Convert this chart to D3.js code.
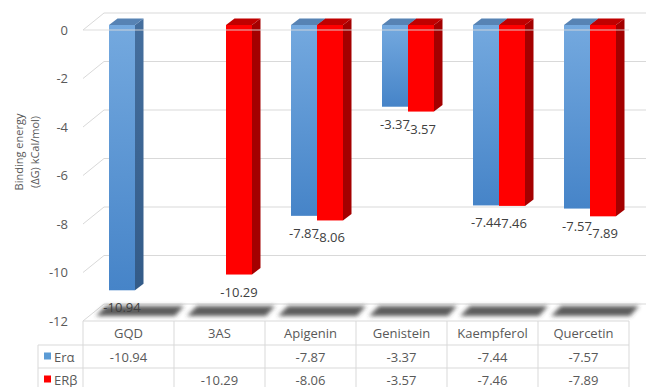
<!DOCTYPE html>
<html>
<head>
<meta charset="utf-8">
<script src="https://cdn.jsdelivr.net/npm/d3@7"></script>
<style>
  html, body { margin: 0; padding: 0; background: #fff; }
  svg { display: block; font-family: "Open Sans", sans-serif; }
</style>
</head>
<body>
<svg id="chart" width="646" height="387"></svg>
<script>
// Binding energies (ΔG, kCal/mol) per ligand for each receptor
const categories = ["GQD", "3AS", "Apigenin", "Genistein", "Kaempferol", "Quercetin"];
const seriesNames = ["Erα", "ERβ"];
const erAlpha = [-10.94, null, -7.87, -3.37, -7.44, -7.57];
const erBeta = [null, -10.29, -8.06, -3.57, -7.46, -7.89];
const yTicks = [0, -2, -4, -6, -8, -10, -12];
const yTitle = ["Binding energy", "(ΔG) kCal/mol)"];

const series = [
  { name: seriesNames[0], values: erAlpha, front: "url(#gBlue)", side: "url(#gBlueSide)", top: "#5783b4", key: "#5b9bd5" },
  { name: seriesNames[1], values: erBeta, front: "#ff0000", side: "#a40000", top: "#c00000", key: "#ff0000" }
];

const svg = d3.select("#chart");
const FONT = "13px";

// gradients and blur for the 3D look
const defs = svg.append("defs");
const g1 = defs.append("linearGradient").attr("id", "gBlue").attr("x1", 0).attr("y1", 0).attr("x2", 0).attr("y2", 1);
g1.append("stop").attr("offset", 0).attr("stop-color", "#74a9df");
g1.append("stop").attr("offset", 1).attr("stop-color", "#4684c8");
const g2 = defs.append("linearGradient").attr("id", "gBlueSide").attr("x1", 0).attr("y1", 0).attr("x2", 0).attr("y2", 1);
g2.append("stop").attr("offset", 0).attr("stop-color", "#456f9e");
g2.append("stop").attr("offset", 1).attr("stop-color", "#335b88");
defs.append("filter").attr("id", "blur").attr("x", "-20%").attr("y", "-60%").attr("width", "140%").attr("height", "220%")
  .append("feGaussianBlur").attr("stdDeviation", 2);

// scales
const x = d3.scaleBand().domain(categories).range([83, 629]);
const y = d3.scaleLinear().domain([0, -12]).range([30, 321]);
const pair = d3.scaleBand().domain([0, 1]).range([0, 52]);

// depth of the plot box and of the bars
const DX = 21, DY = -17;
const BOX = { dx: 6.5, dy: -5 };   // bar front plane offset
const BD = { dx: 8.5, dy: -6.5 };  // bar thickness

const gridColor = "#d9d9d9";

// back wall gridlines and side wall diagonals
const grid = svg.append("g").attr("stroke", gridColor).attr("stroke-width", 1).attr("fill", "none");
grid.selectAll("line.back").data(yTicks).join("line")
  .attr("x1", 83 + DX).attr("x2", 629 + DX + 10)
  .attr("y1", d => y(d) + DY).attr("y2", d => y(d) + DY);
grid.selectAll("line.side").data(yTicks).join("line")
  .attr("x1", 83).attr("x2", 83 + DX)
  .attr("y1", d => y(d)).attr("y2", d => y(d) + DY);

// floor shadows per category
svg.append("g").attr("filter", "url(#blur)")
  .selectAll("path").data(categories).join("path")
  .attr("d", c => {
    const x0 = x(c), w = x.bandwidth();
    return `M${x0 + 13},316 L${x0 + w + 1},316 L${x0 + w + 10},306 L${x0 + 23},306 Z`;
  })
  .attr("fill", "#3f3f3f").attr("opacity", 0.85);

// axis labels
const yAxis = d3.axisLeft(y).tickValues(yTicks).tickSize(0).tickPadding(0).tickFormat(d => String(d));
const ax = svg.append("g").attr("transform", "translate(68,0)").call(yAxis);
ax.select(".domain").remove();
ax.selectAll("text").attr("fill", "#595959").style("font-size", FONT).style("font-family", "'Open Sans', sans-serif");

// axis title
const title = svg.append("text").attr("transform", "translate(0,152) rotate(-90)")
  .attr("text-anchor", "middle").attr("fill", "#595959").style("font-size", "11px");
title.selectAll("tspan").data(yTitle).join("tspan")
  .attr("x", 0).attr("y", (d, i) => 23 + i * 16).text(d => d);

// 3D bars
const bars = svg.append("g");
series.forEach((s, si) => {
  const data = categories.map((c, i) => ({ c, v: s.values[i] })).filter(d => d.v != null);
  const g = bars.append("g");
  data.forEach(d => {
    const xl = x(d.c) + x.bandwidth() / 2 - pair.bandwidth() + BOX.dx + pair(si);
    const xr = xl + pair.bandwidth();
    const yt = y(0) + BOX.dy;
    const yb = y(d.v) + BOX.dy;
    // side face
    g.append("path").attr("d", `M${xr},${yt} L${xr + BD.dx},${yt + BD.dy} L${xr + BD.dx},${yb + BD.dy} L${xr},${yb} Z`)
      .attr("fill", s.side);
    // top face
    g.append("path").attr("d", `M${xl},${yt} L${xl + BD.dx},${yt + BD.dy} L${xr + BD.dx},${yt + BD.dy} L${xr},${yt} Z`)
      .attr("fill", s.top);
    // front face
    g.append("rect").attr("x", xl).attr("y", yt).attr("width", xr - xl).attr("height", yb - yt)
      .attr("fill", s.front);
  });
});

// front edge of the zero plane drawn across the bars
svg.append("line").attr("x1", 83).attr("x2", 629).attr("y1", y(0)).attr("y2", y(0))
  .attr("stroke", gridColor).attr("stroke-width", 1.2).attr("opacity", 0.9);

// value labels under each bar
const labels = svg.append("g").attr("text-anchor", "middle").attr("fill", "#404040").style("font-size", FONT);
series.forEach((s, si) => {
  categories.forEach((c, i) => {
    const v = s.values[i];
    if (v == null) return;
    const xc = x(c) + x.bandwidth() / 2 - pair.bandwidth() + BOX.dx + pair(si) + pair.bandwidth() / 2;
    labels.append("text").attr("x", xc).attr("y", y(v) + BOX.dy + 22).text(v.toFixed(2));
  });
});

// data table
const rowTop = [321, 345, 368, 391];
const table = svg.append("g").attr("stroke", gridColor).attr("stroke-width", 1);
table.append("line").attr("x1", 83).attr("x2", 629).attr("y1", rowTop[0]).attr("y2", rowTop[0]);
table.selectAll("line.h").data(rowTop.slice(1, 3)).join("line")
  .attr("x1", 38).attr("x2", 629).attr("y1", d => d).attr("y2", d => d);
const vx = categories.map(c => x(c)).concat([629]);
table.selectAll("line.v").data(vx).join("line")
  .attr("x1", d => d).attr("x2", d => d).attr("y1", rowTop[0]).attr("y2", 391);
table.append("line").attr("x1", 38).attr("x2", 38).attr("y1", rowTop[1]).attr("y2", 391);

const tt = svg.append("g").attr("fill", "#595959").style("font-size", FONT).attr("text-anchor", "middle");
tt.selectAll("text.cat").data(categories).join("text")
  .attr("x", c => x(c) + x.bandwidth() / 2).attr("y", (rowTop[0] + rowTop[1]) / 2 + 5).text(c => c);
series.forEach((s, si) => {
  const ym = (rowTop[si + 1] + rowTop[si + 2]) / 2 + 5;
  categories.forEach((c, i) => {
    if (s.values[i] == null) return;
    tt.append("text").attr("x", x(c) + x.bandwidth() / 2).attr("y", ym).text(s.values[i].toFixed(2));
  });
  svg.append("rect").attr("x", 44).attr("y", ym - 9).attr("width", 7).attr("height", 7).attr("fill", s.key);
  svg.append("text").attr("x", 54).attr("y", ym).attr("fill", "#595959").style("font-size", FONT).text(s.name);
});
</script>
</body>
</html>
